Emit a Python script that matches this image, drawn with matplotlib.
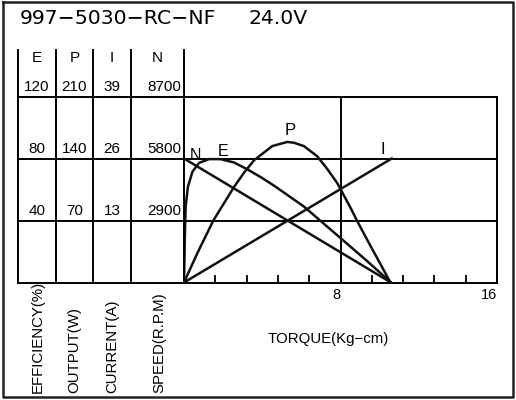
import matplotlib.pyplot as plt
import numpy as np

plt.rcParams['font.family'] = ['Liberation Sans', 'DejaVu Sans']

# data
title = "997\u22125030\u2212RC\u2212NF"
volts = "24.0V"
e_ticks = [40, 80, 120]
p_ticks = [70, 140, 210]
i_ticks = [13, 26, 39]
n_ticks = [2900, 5800, 8700]
torque_ticks = [8, 16]

n_torque = [0, 10.58]
n_speed = [5800, 0]

i_torque = [0, 10.62]
i_current = [0, 26]

p_torque = [0, 0.68, 1.5, 2.56, 3.07, 3.58, 4.51, 5.28, 5.62, 6.13, 6.81, 7.33,
            7.84, 8.52, 8.77, 9.03, 9.54, 10.05, 10.55]
p_output = [0, 33, 70, 108, 124, 138, 154, 158.7, 157.8, 154, 142.5, 128,
            112, 84, 73, 62, 41, 20.5, 0]

e_torque = [0, 0.05, 0.085, 0.2, 0.43, 0.77, 1.28, 1.87, 2.56, 3.24, 3.92, 4.6,
            5.11, 6.13, 7.97, 9.3, 10.58]
e_eff = [0, 34, 49, 61.8, 71.4, 77.2, 79.6, 79.6, 77.4, 73, 68, 62.5,
         58, 49, 29, 14.5, 0]

W, H = 516, 400
fig = plt.figure(figsize=(W / 100, H / 100), dpi=100)

# overlay in pixel units for the frame and the left table
ov = fig.add_axes([0, 0, 1, 1])
ov.set_xlim(0, W)
ov.set_ylim(H, 0)
ov.axis('off')

x0, x1, ytop, ybot = 184, 497, 96.5, 282.5
ax = fig.add_axes([x0 / W, 1 - ybot / H, (x1 - x0) / W, (ybot - ytop) / H])
ax.set_xlim(0, 16)
ax.set_ylim(0, e_ticks[-1])
ax.set_yticks(e_ticks[:-1])
ax.set_yticklabels([])
ax.tick_params(axis='y', length=0)
ax.set_xticks(torque_ticks)
ax.set_xticklabels([str(t) for t in torque_ticks], ha='right', fontsize=10.5)
ax.set_xticks(np.arange(1.6, 16, 1.6), minor=True)
ax.tick_params(axis='x', which='both', direction='in', length=6, width=1.3, pad=4)
ax.grid(True, color='black', lw=1.4)
for s in ax.spines.values():
    s.set_linewidth(1.4)

axp = ax.twinx()
axp.set_ylim(0, p_ticks[-1])
axi = ax.twinx()
axi.set_ylim(0, i_ticks[-1])
axn = ax.twinx()
axn.set_ylim(0, n_ticks[-1])
for a in (axp, axi, axn):
    a.axis('off')

lw = 1.8
ax.plot(e_torque, e_eff, color='#111', lw=lw, solid_joinstyle='round')
axp.plot(p_torque, p_output, color='#111', lw=lw, solid_joinstyle='round')
axi.plot(i_torque, i_current, color='#111', lw=lw)
axn.plot(n_torque, n_speed, color='#111', lw=lw, clip_on=False)

ax.text(0.56, 82, "N", fontsize=11.5, ha='center', va='center')
ax.text(1.98, 84.5, "E", fontsize=11.5, ha='center', va='center')
ax.text(5.43, 98, "P", fontsize=12, ha='center', va='center')
ax.text(10.18, 86, "I", fontsize=12, ha='center', va='center')

# left table
k = dict(color='black', lw=1.4)
for x in [18, 56, 93, 131]:
    ov.plot([x, x], [50, ybot], **k)
ov.plot([x0, x0], [50, ytop], **k)
for y in [ytop, 158.5, 220.5, ybot]:
    ov.plot([18, x0], [y, y], **k)

cols = [("E", 37, e_ticks, ax, 'center'), ("P", 74.5, p_ticks, axp, 'center'),
        ("I", 112, i_ticks, axi, 'center'), ("N", 181, n_ticks, axn, 'right')]
for name, cx, vals, a, ha in cols:
    hx = 157 if name == "N" else cx
    ov.text(hx, 58, name, fontsize=11, ha='center', va='center')
    for v in vals:
        ov.annotate(str(v), xy=(cx, v), xycoords=(ov.transData, a.transData),
                    xytext=(0, 1.5), textcoords='offset points',
                    ha=ha, va='bottom', fontsize=11)

for txt, cx in [("EFFICIENCY(%)", 37.5), ("OUTPUT(W)", 74), ("CURRENT(A)", 112), ("SPEED(R.P.M)", 159)]:
    ov.text(cx, 393, txt, rotation=90, ha='center', va='bottom', fontsize=10.8)
ov.text(328.5, 339, "TORQUE(Kg\u2212cm)", ha='center', va='center', fontsize=10.8)

ov.text(20, 18, title, fontsize=14.7, family='DejaVu Sans', ha='left', va='center')
ov.text(248, 18, volts, fontsize=14.7, family='DejaVu Sans', ha='left', va='center')

# outer frame
ov.plot([2.5, 512.5, 512.5, 2.5, 2.5], [2, 2, 397, 397, 2], color='#222', lw=1.8)

fig.savefig("out.png", dpi=100)
